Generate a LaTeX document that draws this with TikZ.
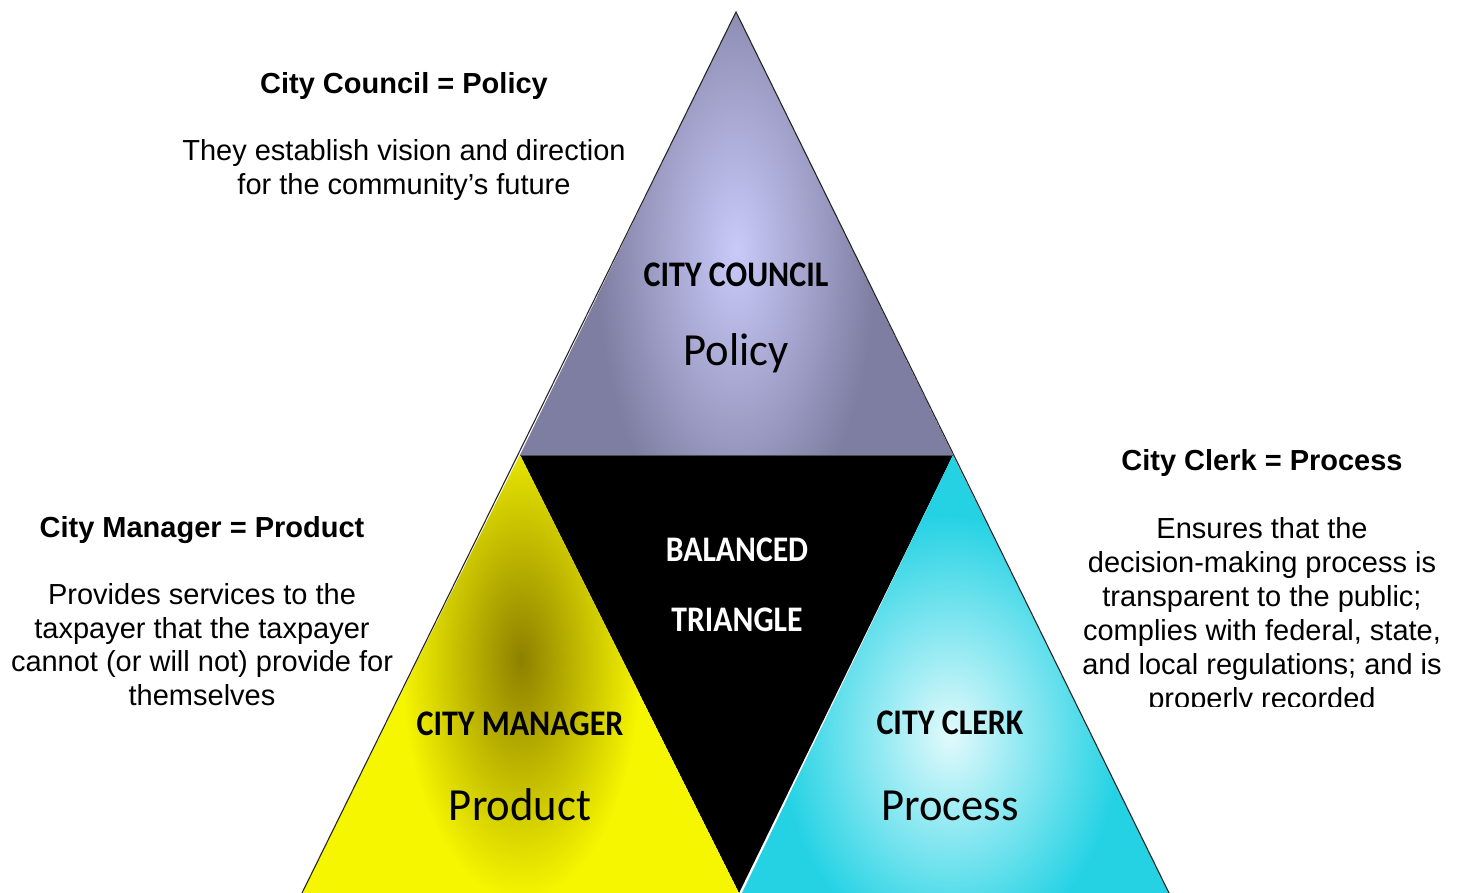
\documentclass[tikz,border=0pt]{standalone}
\usepackage{graphicx}
\usepackage{fontspec}
\setmainfont{Liberation Sans}
\newfontfamily\calfont{Carlito}
\definecolor{topdark}{HTML}{7E7EA2}
\definecolor{toplight}{HTML}{CACAFA}
\definecolor{ydark}{HTML}{8E8000}
\definecolor{ylight}{HTML}{F6F600}
\definecolor{cdark}{HTML}{24D2E4}
\definecolor{clight}{HTML}{E2FAFC}
\tikzset{
  txt/.style={anchor=base, inner sep=0pt, font=\fontsize{29}{34}\selectfont},
  hd/.style={anchor=base, inner sep=0pt, font=\bfseries\fontsize{29}{34}\selectfont},
  caplbl/.style={anchor=base, inner sep=0pt, font=\calfont\bfseries\fontsize{36}{40}\selectfont},
  biglbl/.style={anchor=base, inner sep=0pt, font=\calfont\fontsize{46}{50}\selectfont},
  edge/.style={draw=black!85, line width=1.1pt}
}
\begin{document}
\begin{tikzpicture}[x=1pt,y=-1pt]
\useasboundingbox (0,0) rectangle (1461,893);
\fill[white] (0,0) rectangle (1461,893);
\coordinate (A) at (736,12);
\coordinate (L) at (520,455);
\coordinate (R) at (953,455);
\coordinate (BL) at (302,893);
\coordinate (BM) at (739,893);
\coordinate (BR) at (1169,893);
% top triangle
\begin{scope}
  \clip (A) -- (R) -- (L) -- cycle;
  \fill[topdark] (A) -- (R) -- (L) -- cycle;
  \shade[inner color=toplight, outer color=topdark] (736,250) ellipse [x radius=140, y radius=300];
\end{scope}
% black triangle
\fill[black] (L) -- (R) -- (BM) -- cycle;
% yellow triangle
\begin{scope}
  \clip (L) -- (BM) -- (BL) -- cycle;
  \fill[ylight] (L) -- (BM) -- (BL) -- cycle;
  \shade[inner color=ydark, outer color=ylight] (521,660) ellipse [x radius=120, y radius=240];
\end{scope}
% cyan triangle
\begin{scope}
  \clip (R) -- (BR) -- (742,893) -- cycle;
  \fill[cdark] (R) -- (BR) -- (742,893) -- cycle;
  \shade[inner color=clight, outer color=cdark] (950,735) ellipse [x radius=170, y radius=220];
\end{scope}
% outlines
\draw[edge] (BL) -- (A) -- (BR);
\draw[black!70, line width=0.8pt] (L) -- (R);
% triangle labels
\node[caplbl] (cc) at (736,287) {\scalebox{0.89}[1]{CITY COUNCIL}};
\node[biglbl] (pol) at (736,365) {\scalebox{0.97}[1]{Policy}};
\node[caplbl, text=white] (bal) at (737,561) {\scalebox{0.88}[1]{BALANCED}};
\node[caplbl, text=white] (tri) at (737,631) {\scalebox{0.88}[1]{TRIANGLE}};
\node[caplbl] (cm) at (520,735) {\scalebox{0.89}[1]{CITY MANAGER}};
\node[biglbl] (prod) at (520,820) {\scalebox{0.97}[1]{Product}};
\node[caplbl] (ck) at (950,734) {\scalebox{0.89}[1]{CITY CLERK}};
\node[biglbl] (proc) at (950,820) {\scalebox{0.97}[1]{Process}};
% City council text
\node[hd] (h1) at (404,94) {City Council = Policy};
\node[txt] (t11) at (404,161) {They establish vision and direction};
\node[txt] (t12) at (404,195) {for the community’s future};
% City manager text
\node[hd] (h2) at (202,537) {City Manager = Product};
\node[txt] (t21) at (202,604) {Provides services to the};
\node[txt] (t22) at (202,638) {taxpayer that the taxpayer};
\node[txt] (t23) at (202,671) {cannot (or will not) provide for};
\node[txt] (t24) at (202,705) {themselves};
% City clerk text
\node[hd] (h3) at (1262,470) {City Clerk = Process};
\begin{scope}
  \clip (1000,480) rectangle (1461,706);
  \node[txt] (t31) at (1262,538) {Ensures that the};
  \node[txt] (t32) at (1262,572) {decision-making process is};
  \node[txt] (t33) at (1262,606) {transparent to the public;};
  \node[txt] (t34) at (1262,640) {complies with federal, state,};
  \node[txt] (t35) at (1262,674) {and local regulations; and is};
  \node[txt] (t36) at (1262,708) {properly recorded};
\end{scope}
\end{tikzpicture}
\end{document}
